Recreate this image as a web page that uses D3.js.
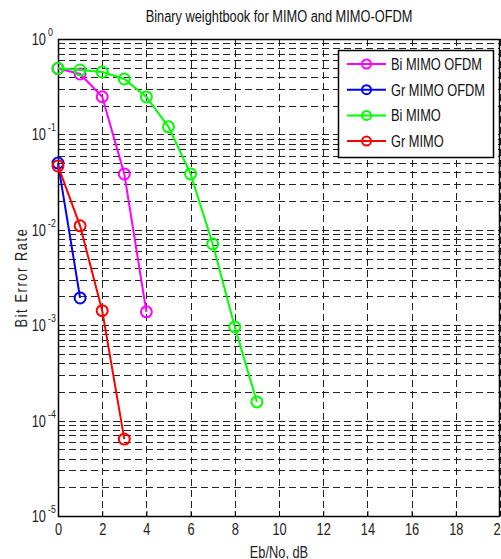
<!DOCTYPE html>
<html>
<head>
<meta charset="utf-8">
<script src="https://cdn.jsdelivr.net/npm/d3@7"></script>
<style>
body { margin: 0; background: #fff; }
svg { display: block; font-family: "Liberation Sans", Arial, sans-serif; }
</style>
</head>
<body>
<svg id="viz"></svg>
<script>
// data
var snr = [0, 1, 2, 3, 4, 5, 6, 7, 8, 9];
var biMimoOfdm = [0.49, 0.43, 0.248, 0.0385, 0.00138];
var grMimoOfdm = [0.050, 0.00193];
var biMimo = [0.493, 0.473, 0.451, 0.381, 0.247, 0.12, 0.0385, 0.0071, 0.00096, 0.000157];
var grMimo = [0.0467, 0.011, 0.00142, 0.000064];
var xTicks = [0, 2, 4, 6, 8, 10, 12, 14, 16, 18, 20];
var yExps = [0, -1, -2, -3, -4, -5];

var seriesNames = ["Bi MIMO OFDM", "Gr MIMO OFDM", "Bi MIMO", "Gr MIMO"];
var seriesColors = ["#ff00ff", "#0000ff", "#00ff00", "#ff0000"];
var seriesVals = [biMimoOfdm, grMimoOfdm, biMimo, grMimo];

var width = 501, height = 559;
var margin = {top: 39, right: 1, bottom: 43, left: 58};

var svg = d3.select("#viz").attr("width", width).attr("height", height);

var x = d3.scaleLinear().domain([0, 20]).range([margin.left, width - margin.right]);
var y = d3.scaleLog().domain([1e-5, 1]).range([height - margin.bottom, margin.top]);

// grid
var minorY = [];
for (var e = -5; e < 0; e++) {
    for (var m = 1; m < 10; m++) minorY.push(m * Math.pow(10, e));
}
minorY.push(1);

var grid = svg.append("g").attr("stroke", "#222").attr("stroke-width", 1).attr("stroke-dasharray", "7,4");
grid.selectAll(".gy").data(minorY).join("line")
    .attr("x1", margin.left).attr("x2", width - margin.right)
    .attr("y1", d => Math.round(y(d)) + 0.5).attr("y2", d => Math.round(y(d)) + 0.5);
grid.selectAll(".gx").data(xTicks).join("line")
    .attr("y1", margin.top).attr("y2", height - margin.bottom)
    .attr("x1", d => Math.round(x(d)) + 0.5).attr("x2", d => Math.round(x(d)) + 0.5);

// frame
svg.append("rect")
    .attr("x", margin.left + 0.5).attr("y", margin.top + 0.5)
    .attr("width", width - margin.right - margin.left - 1)
    .attr("height", height - margin.bottom - margin.top)
    .attr("fill", "none").attr("stroke", "#000").attr("stroke-width", 1.5);

// x axis
var xAxis = svg.append("g").attr("transform", `translate(0,${height - margin.bottom})`)
    .call(d3.axisBottom(x).tickValues(xTicks).tickSize(-5).tickPadding(8));
xAxis.select(".domain").remove();
xAxis.selectAll("text").attr("font-size", 16).attr("fill", "#222").attr("font-family", null);

// y axis labels 10^n
var yl = svg.append("g");
yExps.forEach(function (n) {
    yl.append("text").attr("x", margin.left - 12).attr("y", y(Math.pow(10, n)) + 6)
        .attr("text-anchor", "end").attr("font-size", 16).attr("fill", "#222").text("10");
    yl.append("text").attr("x", margin.left - 10).attr("y", y(Math.pow(10, n)) - 3)
        .attr("text-anchor", "start").attr("font-size", 11).attr("fill", "#222").text(n);
});

// titles
svg.append("text").attr("x", x(10)).attr("y", 22).attr("text-anchor", "middle")
    .attr("font-size", 16).attr("fill", "#111").text("Binary weightbook for MIMO and MIMO-OFDM");
svg.append("text").attr("x", x(10)).attr("y", 558).attr("text-anchor", "middle")
    .attr("font-size", 16).attr("fill", "#222").text("Eb/No, dB");
svg.append("text").attr("transform", `translate(27,${y(Math.pow(10, -2.5))}) rotate(-90)`)
    .attr("text-anchor", "middle").attr("font-size", 16).attr("letter-spacing", 2)
    .attr("fill", "#222").text("Bit Error Rate");

// series
var line = d3.line().x((d, i) => x(snr[i])).y(d => y(d));
seriesVals.forEach(function (vals, k) {
    var g = svg.append("g");
    g.append("path").datum(vals).attr("d", line)
        .attr("fill", "none").attr("stroke", seriesColors[k]).attr("stroke-width", 2);
    g.selectAll("circle").data(vals).join("circle")
        .attr("cx", (d, i) => x(snr[i])).attr("cy", d => y(d)).attr("r", 5.5)
        .attr("fill", "none").attr("stroke", seriesColors[k]).attr("stroke-width", 2);
});

// legend
var lg = svg.append("g");
lg.append("rect").attr("x", 338.5).attr("y", 50.5).attr("width", 155).attr("height", 107)
    .attr("fill", "#fff").attr("stroke", "#000").attr("stroke-width", 1.5);
seriesNames.forEach(function (name, k) {
    var yy = 64 + k * 25.7;
    lg.append("line").attr("x1", 347).attr("x2", 386).attr("y1", yy).attr("y2", yy)
        .attr("stroke", seriesColors[k]).attr("stroke-width", 2);
    lg.append("circle").attr("cx", 366.5).attr("cy", yy).attr("r", 4.5)
        .attr("fill", "none").attr("stroke", seriesColors[k]).attr("stroke-width", 2);
    lg.append("text").attr("x", 391).attr("y", yy + 6).attr("font-size", 16)
        .attr("fill", "#111").text(name);
});

// squeeze every text horizontally, like the narrow font of the original
svg.selectAll("text").each(function () {
    var len = this.getComputedTextLength();
    d3.select(this).attr("textLength", len * 0.8).attr("lengthAdjust", "spacingAndGlyphs");
});
</script>
</body>
</html>
